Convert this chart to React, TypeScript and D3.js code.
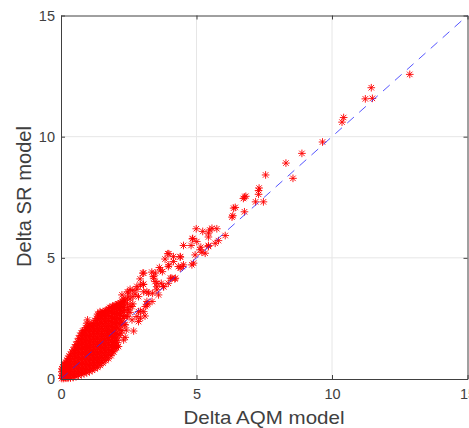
import React, { useRef, useEffect } from 'react';
import * as d3 from 'd3';

const xTicks = [0, 5, 10, 15];
const yTicks = [0, 5, 10, 15];
const xLabel = 'Delta AQM model';
const yLabel = 'Delta SR model';

const coreX = [0.03, 0.1, 0.18, 0.26, 0.35, 0.45, 0.55, 0.65, 0.75, 0.85, 0.95, 1.05, 1.15, 1.25, 1.35, 1.45, 1.55, 1.65, 1.75, 1.85, 1.95, 2.05, 2.15, 2.25, 2.35, 2.45, 2.55, 2.65];
const coreY = [
  [0.02, 0.15, 0.3, 0.42],
  [0.02, 0.15, 0.3, 0.45, 0.58],
  [0.03, 0.18, 0.35, 0.5, 0.68],
  [0.03, 0.2, 0.38, 0.55, 0.72, 0.85],
  [0.04, 0.2, 0.4, 0.6, 0.8, 1.02],
  [0.06, 0.25, 0.45, 0.65, 0.85, 1.05, 1.2],
  [0.1, 0.3, 0.5, 0.7, 0.9, 1.1, 1.28, 1.42],
  [0.14, 0.34, 0.55, 0.75, 0.95, 1.15, 1.35, 1.52, 1.68],
  [0.18, 0.38, 0.6, 0.8, 1, 1.2, 1.4, 1.6, 1.78, 1.9],
  [0.22, 0.42, 0.62, 0.82, 1.02, 1.22, 1.42, 1.62, 1.82, 2.0],
  [0.26, 0.46, 0.66, 0.86, 1.06, 1.26, 1.46, 1.66, 1.86, 2.05, 2.3],
  [0.3, 0.5, 0.7, 0.9, 1.1, 1.3, 1.5, 1.7, 1.9, 2.1, 2.22],
  [0.36, 0.56, 0.76, 0.96, 1.16, 1.36, 1.56, 1.76, 1.96, 2.16, 2.3],
  [0.42, 0.62, 0.82, 1.02, 1.22, 1.42, 1.62, 1.82, 2.02, 2.22, 2.42],
  [0.48, 0.68, 0.88, 1.08, 1.28, 1.48, 1.68, 1.88, 2.08, 2.28, 2.48, 2.68],
  [0.56, 0.76, 0.96, 1.16, 1.36, 1.56, 1.76, 1.96, 2.16, 2.36, 2.56, 2.72],
  [0.66, 0.86, 1.06, 1.26, 1.46, 1.66, 1.86, 2.06, 2.26, 2.46, 2.62, 2.78],
  [0.76, 0.96, 1.16, 1.36, 1.56, 1.76, 1.96, 2.16, 2.36, 2.56, 2.72, 2.82],
  [0.84, 1.04, 1.24, 1.44, 1.64, 1.84, 2.04, 2.24, 2.44, 2.64, 2.9],
  [0.96, 1.16, 1.36, 1.56, 1.76, 1.96, 2.16, 2.36, 2.56, 2.76, 2.95],
  [1.12, 1.32, 1.52, 1.72, 1.92, 2.12, 2.32, 2.52, 2.72, 2.92, 3.0],
  [1.3, 1.5, 1.7, 1.9, 2.15, 2.35, 2.55, 2.75, 2.95, 3.05],
  [1.8, 2.05, 2.3, 2.5, 2.7, 2.9, 3.1],
  [2.0, 2.35, 2.6, 2.8, 3.0, 3.2],
  [2.25, 2.6, 2.85, 3.05, 3.25],
  [2.6, 2.85, 3.1, 3.35, 3.6],
  [2.75, 3.0, 3.3, 3.7],
  [3.1, 3.4, 3.65],
];

// second pass over the same cloud, the markers lying between the columns above
const fillX = [0.07, 0.14, 0.22, 0.3, 0.4, 0.5, 0.6, 0.7, 0.8, 0.9, 1.0, 1.1, 1.2, 1.3, 1.4, 1.5, 1.6, 1.7, 1.8, 1.9, 2.0, 2.1, 2.2, 2.3];
const fillY = [
  [0.08, 0.22, 0.38, 0.5],
  [0.08, 0.24, 0.4, 0.58, 0.64],
  [0.1, 0.28, 0.44, 0.62, 0.78],
  [0.12, 0.3, 0.48, 0.66, 0.84, 0.95],
  [0.14, 0.32, 0.52, 0.72, 0.92, 1.12],
  [0.18, 0.38, 0.58, 0.78, 0.98, 1.18, 1.32],
  [0.22, 0.42, 0.62, 0.82, 1.02, 1.22, 1.4, 1.55],
  [0.26, 0.46, 0.66, 0.86, 1.06, 1.26, 1.46, 1.66, 1.8],
  [0.3, 0.5, 0.7, 0.9, 1.1, 1.3, 1.5, 1.7, 1.9, 1.98],
  [0.34, 0.54, 0.74, 0.94, 1.14, 1.34, 1.54, 1.74, 1.94, 2.12],
  [0.38, 0.58, 0.78, 0.98, 1.18, 1.38, 1.58, 1.78, 1.98, 2.16],
  [0.42, 0.62, 0.82, 1.02, 1.22, 1.42, 1.62, 1.82, 2.02, 2.2],
  [0.48, 0.68, 0.88, 1.08, 1.28, 1.48, 1.68, 1.88, 2.08, 2.28],
  [0.54, 0.74, 0.94, 1.14, 1.34, 1.54, 1.74, 1.94, 2.14, 2.34, 2.5],
  [0.62, 0.82, 1.02, 1.22, 1.42, 1.62, 1.82, 2.02, 2.22, 2.42, 2.6],
  [0.7, 0.9, 1.1, 1.3, 1.5, 1.7, 1.9, 2.1, 2.3, 2.5, 2.68],
  [0.8, 1.0, 1.2, 1.4, 1.6, 1.8, 2.0, 2.2, 2.4, 2.6, 2.76],
  [0.9, 1.1, 1.3, 1.5, 1.7, 1.9, 2.1, 2.3, 2.5, 2.7, 2.84],
  [1.0, 1.2, 1.4, 1.6, 1.8, 2.0, 2.2, 2.4, 2.6, 2.8, 2.95],
  [1.12, 1.3, 1.5, 1.7, 1.9, 2.1, 2.3, 2.5, 2.7, 2.88, 3.0],
  [1.3, 1.48, 1.66, 1.86, 2.06, 2.26, 2.46, 2.66, 2.86, 3.05],
  [1.6, 1.85, 2.1, 2.3, 2.5, 2.7, 2.9, 3.1],
  [2.2, 2.42, 2.62, 2.82, 3.0, 3.15],
  [2.5, 2.75, 2.95, 3.15, 3.3],
];

// sparse points, upper end of the cloud
const outerX = [2.12, 2.37, 2.37, 2.68, 2.86, 2.93, 3.1, 3.2, 3.04, 2.8, 2.74, 3.38, 3.7, 3.23, 3.17, 3.04, 3.02, 2.92, 3.35, 3.41, 3.47, 3.53, 3.6, 3.78, 3.96, 4.09, 4.2, 3.63, 3.74, 3.96, 3.84, 3.94, 4.15, 4.15, 4.33, 4.4, 4.4, 4.52, 4.52, 4.83, 4.89, 4.95, 5.13, 5.2, 5.32, 4.85, 4.86, 4.8, 4.99, 5.01, 5.16, 5.23, 5.44, 5.44, 5.44, 5.44, 5.49, 5.57, 5.75, 5.69, 5.81, 6.06, 6.31, 6.34, 6.37, 6.43, 6.73, 6.77, 6.82, 6.77, 7.18, 7.47, 7.29, 7.29, 7.31, 7.55, 8.56, 8.3, 8.89, 9.65, 10.37, 10.43, 11.23, 11.49, 11.45, 12.87];
const outerY = [1.34, 1.72, 2.23, 1.98, 2.37, 2.8, 2.6, 3.1, 3.9, 3.7, 3.5, 3.54, 3.95, 3.54, 3.2, 3.91, 4.37, 4.13, 4.41, 4.23, 4.02, 3.81, 3.47, 3.81, 3.95, 4.16, 4.13, 4.6, 4.43, 4.64, 4.95, 5.17, 5.05, 4.85, 4.64, 4.57, 5.03, 4.71, 5.51, 4.71, 4.78, 5.12, 5.33, 5.23, 5.19, 5.78, 5.8, 5.51, 6.2, 5.67, 5.44, 6.09, 5.47, 5.51, 5.86, 6.02, 6.15, 6.22, 6.2, 5.6, 5.71, 5.92, 6.68, 6.74, 7.05, 7.08, 7.45, 7.51, 7.54, 6.9, 7.31, 7.31, 7.62, 7.78, 7.88, 8.42, 8.28, 8.91, 9.31, 9.78, 10.6, 10.79, 11.56, 11.58, 12.02, 12.57];

// loose points along the edge of the blob, from the zoomed crop
const edgeX = [2.0, 2.06, 2.31, 2.21, 2.41, 2.62, 2.43, 2.8, 2.93, 2.86, 2.62, 2.49, 2.37, 2.25, 2.49, 2.8, 2.93, 3.05, 3.17, 2.86, 3.05, 3.48, 3.42, 3.67, 3.54, 3.79, 4.04, 4.22, 3.98, 3.98, 4.4, 4.47, 3.54, 3.36, 3.17, 3.05, 3.11, 1.44, 1.38, 1.5, 0.98, 1.01];
const edgeY = [1.27, 1.4, 1.61, 1.89, 2.02, 2.44, 2.58, 2.58, 2.51, 2.78, 2.99, 2.85, 3.26, 3.47, 3.54, 3.82, 3.88, 3.6, 3.6, 3.4, 4.37, 4.37, 4.16, 4.5, 3.95, 3.81, 4.16, 4.16, 4.71, 5.17, 5.05, 4.64, 3.68, 3.2, 3.06, 2.78, 2.99, 2.78, 2.64, 2.71, 2.44, 2.23];

const diagonal = [0, 15];

// MATLAB style '*' marker: a plus and a cross on top of each other
const asterisk = {
  draw(ctx: any, size: number) {
    const r = Math.sqrt(size);
    const d = r * 0.72;
    ctx.moveTo(-r, 0); ctx.lineTo(r, 0);
    ctx.moveTo(0, -r); ctx.lineTo(0, r);
    ctx.moveTo(-d, -d); ctx.lineTo(d, d);
    ctx.moveTo(-d, d); ctx.lineTo(d, -d);
  },
};

const App = () => {
  const svgRef = useRef<SVGSVGElement>(null);

  useEffect(() => {
    const svg = d3.select(svgRef.current);
    svg.selectAll('*').remove();

    const x = d3.scaleLinear().domain([0, 15]).range([61, 467.5]);
    const y = d3.scaleLinear().domain([0, 15]).range([379, 15.5]);
    const font = '"Liberation Sans", Arial, sans-serif';
    const ink = '#404040';

    // grid first, everything else sits above it
    const grid = svg.append('g').attr('stroke', '#e6e6e6').attr('stroke-width', 1);
    grid.selectAll('line.v').data(xTicks.slice(1, 3)).join('line')
      .attr('x1', d => x(d)).attr('x2', d => x(d))
      .attr('y1', y(0)).attr('y2', y(15));
    grid.selectAll('line.h').data(yTicks.slice(1, 3)).join('line')
      .attr('class', 'h')
      .attr('x1', x(0)).attr('x2', x(15))
      .attr('y1', d => y(d)).attr('y2', d => y(d));

    const points: [number, number][] = [];
    coreX.forEach((cx, i) => coreY[i].forEach(cy => points.push([cx, cy])));
    fillX.forEach((fx, i) => fillY[i].forEach(fy => points.push([fx, fy])));
    outerX.forEach((ox, i) => points.push([ox, outerY[i]]));
    edgeX.forEach((ex, i) => points.push([ex, edgeY[i]]));

    const marker = d3.symbol().type(asterisk as any).size(14.5);
    svg.append('g')
      .attr('fill', 'none').attr('stroke', '#ff0000').attr('stroke-width', 0.9)
      .selectAll('path').data(points).join('path')
      .attr('transform', d => `translate(${x(d[0])},${y(d[1])})`)
      .attr('d', marker as any);

    svg.append('path')
      .attr('d', d3.line<number>().x(d => x(d)).y(d => y(d))(diagonal))
      .attr('fill', 'none').attr('stroke', '#2a2aff').attr('stroke-width', 0.8)
      .attr('stroke-dasharray', '9,7');

    const style = (g: any) => {
      g.selectAll('text').attr('font-family', font).attr('font-size', 14.5).attr('fill', ink);
      g.selectAll('line').attr('stroke', ink);
      g.select('.domain').attr('stroke', ink);
    };

    svg.append('g').attr('transform', `translate(0,${y(0)})`)
      .call(d3.axisBottom(x).tickValues(xTicks).tickFormat(d3.format('d') as any).tickSizeInner(-4).tickSizeOuter(0).tickPadding(10))
      .call(style);
    svg.append('g').attr('transform', `translate(0,${y(15)})`)
      .call(d3.axisTop(x).tickValues(xTicks).tickFormat(() => '').tickSizeInner(-4).tickSizeOuter(0))
      .call(style);
    svg.append('g').attr('transform', `translate(${x(0)},0)`)
      .call(d3.axisLeft(y).tickValues(yTicks).tickFormat(d3.format('d') as any).tickSizeInner(-4).tickSizeOuter(0).tickPadding(6))
      .call(style);
    svg.append('g').attr('transform', `translate(${x(15)},0)`)
      .call(d3.axisRight(y).tickValues(yTicks).tickFormat(() => '').tickSizeInner(-4).tickSizeOuter(0))
      .call(style);

    // the picture is stretched a little sideways, so fit the labels to their measured length
    svg.append('text')
      .attr('x', 264).attr('y', 424).attr('text-anchor', 'middle')
      .attr('font-family', font).attr('font-size', 18.5).attr('fill', ink)
      .attr('textLength', 161).attr('lengthAdjust', 'spacingAndGlyphs')
      .text(xLabel);
    svg.append('text')
      .attr('transform', 'translate(30.5,196.5) rotate(-90)').attr('text-anchor', 'middle')
      .attr('font-family', font).attr('font-size', 20.5).attr('fill', ink)
      .attr('textLength', 141).attr('lengthAdjust', 'spacingAndGlyphs')
      .text(yLabel);
  }, []);

  return <svg ref={svgRef} width={469} height={428} style={{ position: 'absolute', left: 0, top: 0 }}></svg>;
};

export default App;
